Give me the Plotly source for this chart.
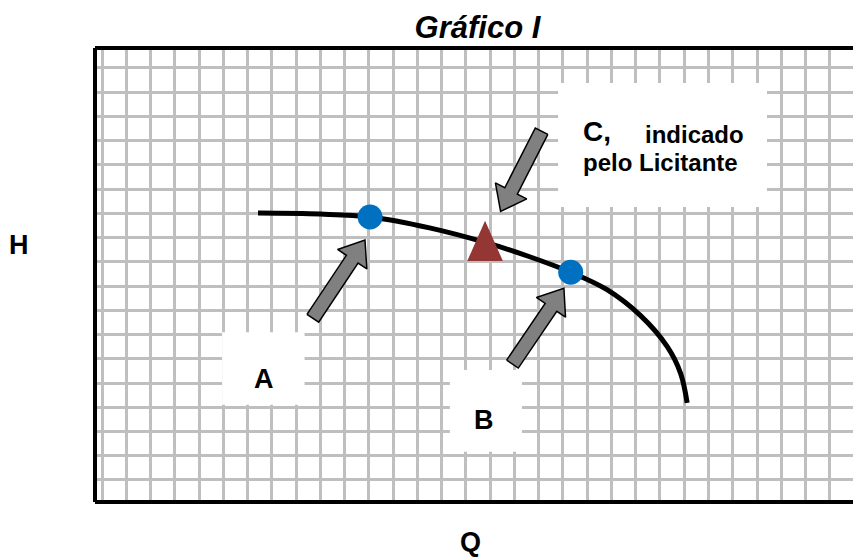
import numpy as np
import plotly.graph_objects as go

# ---- data (grid units: one grid cell = 1) ----
curve_q = [6.43, 9.0, 11.05, 13.5, 15.8, 17.6, 19.32, 20.8, 22.2, 23.3, 23.85, 24.12]
curve_h = [11.01, 10.97, 10.85, 10.40, 9.80, 9.22, 8.57, 7.86, 6.78, 5.50, 4.40, 3.18]

points_q = [11.05, 19.32]      # A, B
points_h = [10.85, 8.57]

point_c_q = [15.79]            # C, indicated by bidder
point_c_h = [9.866]

arrow_tail_q = [8.69, 16.92, 18.12]
arrow_tail_h = [6.67, 4.78, 14.39]
arrow_tip_q = [10.84, 19.04, 16.43]
arrow_tip_h = [9.90, 7.91, 11.08]

label_text = ["A", "B"]
label_q = [6.68, 15.75]
label_h = [4.17, 2.48]

# ---- styles ----
GRID = "#BFBFBF"
BLUE = "#0070C0"
RED = "#943634"
GRAY = "#808080"
FONT = "Liberation Sans, Arial, sans-serif"

fig = go.Figure()

# curve
fig.add_trace(go.Scatter(x=curve_q, y=curve_h, mode="lines",
                         line=dict(color="black", width=5, shape="spline", smoothing=1.0),
                         hoverinfo="skip", showlegend=False))

# block arrows
def block_arrow(tail, tip, shaft_w=0.58, head_w=1.45, head_len=0.95):
    tail = np.array(tail, float); tip = np.array(tip, float)
    d = tip - tail
    u = d / np.linalg.norm(d)
    n = np.array([-u[1], u[0]])
    base = tip - u * head_len
    pts = [tail + n * shaft_w / 2, base + n * shaft_w / 2, base + n * head_w / 2, tip,
           base - n * head_w / 2, base - n * shaft_w / 2, tail - n * shaft_w / 2,
           tail + n * shaft_w / 2]
    pts = np.array(pts)
    return pts[:, 0], pts[:, 1]

for tq, th, pq, ph in zip(arrow_tail_q, arrow_tail_h, arrow_tip_q, arrow_tip_h):
    ax, ay = block_arrow((tq, th), (pq, ph))
    fig.add_trace(go.Scatter(x=ax, y=ay, mode="lines", fill="toself", fillcolor=GRAY,
                             line=dict(color="black", width=1.5), hoverinfo="skip",
                             showlegend=False))

# triangle C (taller than equilateral)
TRI_HW, TRI_HH = 0.734, 0.831
cq, ch = point_c_q[0], point_c_h[0]
fig.add_trace(go.Scatter(x=[cq - TRI_HW, cq + TRI_HW, cq, cq - TRI_HW],
                         y=[ch - TRI_HH, ch - TRI_HH, ch + TRI_HH, ch - TRI_HH],
                         mode="lines", fill="toself", fillcolor=RED,
                         line=dict(color=RED, width=0), hoverinfo="skip", showlegend=False))

# blue points
fig.add_trace(go.Scatter(x=points_q, y=points_h, mode="markers",
                         marker=dict(color=BLUE, size=25, line=dict(width=0)),
                         hoverinfo="skip", showlegend=False))

# white label boxes (cover grid, under traces)
boxes = [(4.95, 8.35, 3.10, 6.10), (14.34, 17.31, 1.16, 4.54), (18.80, 27.41, 11.26, 16.38)]
shapes = []
for x0, x1, y0, y1 in boxes:
    shapes.append(dict(type="rect", xref="x", yref="y", x0=x0, x1=x1, y0=y0, y1=y1,
                       fillcolor="white", line=dict(width=0), layer="between"))

# frame: left, top, bottom
for x0, y0, x1, y1 in [(0, 0, 0, 1), (0, 1, 1, 1), (0, 0, 1, 0)]:
    shapes.append(dict(type="line", xref="paper", yref="paper", x0=x0, y0=y0, x1=x1, y1=y1,
                       line=dict(color="black", width=4), layer="above"))

annotations = []
for t, q, h in zip(label_text, label_q, label_h):
    annotations.append(dict(x=q, y=h, xref="x", yref="y", text=f"<b>{t}</b>", showarrow=False,
                            font=dict(family=FONT, size=27, color="black"),
                            xanchor="center", yanchor="middle"))

annotations += [
    dict(x=19.74, y=14.36, xref="x", yref="y", text="<b>C,</b>", showarrow=False,
         font=dict(family=FONT, size=28, color="black"), xanchor="left", yanchor="middle"),
    dict(x=22.30, y=14.27, xref="x", yref="y", text="<b>indicado</b>", showarrow=False,
         font=dict(family=FONT, size=24, color="black"), xanchor="left", yanchor="middle"),
    dict(x=19.74, y=13.08, xref="x", yref="y", text="<b>pelo Licitante</b>", showarrow=False,
         font=dict(family=FONT, size=24, color="black"), xanchor="left", yanchor="middle"),
    dict(x=-0.0992, y=0.566, xref="paper", yref="paper", text="<b>H</b>", showarrow=False,
         font=dict(family=FONT, size=27, color="black"), xanchor="center", yanchor="middle"),
    dict(x=0.4896, y=-0.088, xref="paper", yref="paper", text="<b>Q</b>", showarrow=False,
         font=dict(family=FONT, size=27, color="black"), xanchor="center", yanchor="middle"),
]

axis_common = dict(showgrid=True, gridcolor=GRID, gridwidth=2.5, zeroline=False,
                   showticklabels=False, ticks="", showline=False, dtick=1, tick0=0,
                   fixedrange=True)

# page adds an 8px body margin, so the figure is 8px smaller and shifted
fig.update_layout(
    width=853, height=550,
    margin=dict(l=87, r=0, t=40, b=56, pad=0),
    paper_bgcolor="white", plot_bgcolor="white",
    title=dict(text="<b><i>Gráfico I</i></b>", x=469.5 / 853, y=1 - 19 / 550,
               xref="container", yref="container", xanchor="center", yanchor="middle",
               font=dict(family=FONT, size=31, color="black")),
    xaxis=dict(range=[-0.2885, 31.286], **axis_common),
    yaxis=dict(range=[-0.908, 17.822], **axis_common),
    shapes=shapes,
    annotations=annotations,
    showlegend=False,
)

fig.write_html("out.html")
